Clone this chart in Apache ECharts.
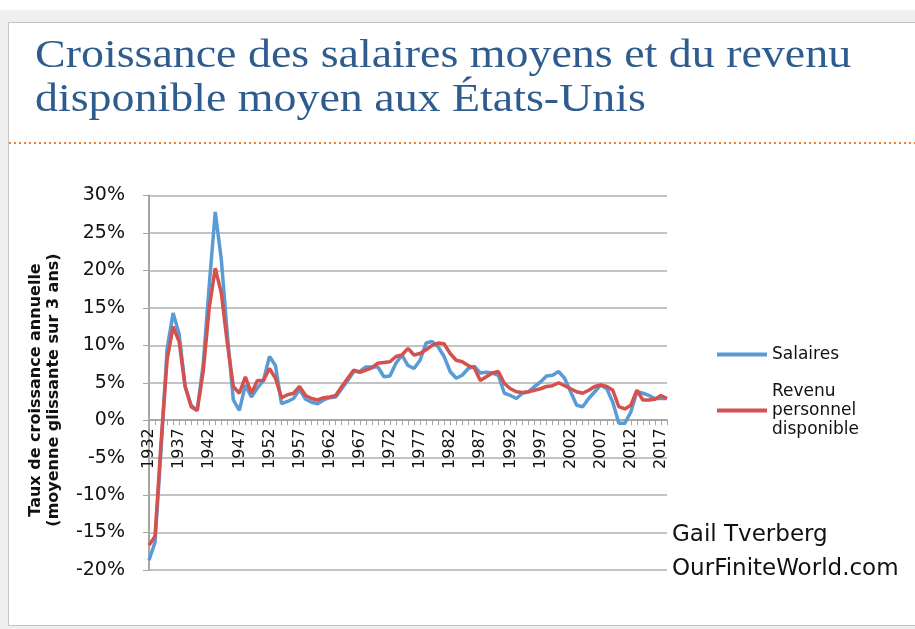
<!DOCTYPE html>
<html>
<head>
<meta charset="utf-8">
<script src="https://cdn.jsdelivr.net/npm/echarts@6/dist/echarts.min.js"></script>
<style>
  body { margin: 0; background: #fff; }
  #frame { position: absolute; left: 0; top: 10px; width: 915px; height: 619px; background: #efefef; }
  #panel { position: absolute; left: 8px; top: 22px; width: 910px; height: 602px; background: #fff; border: 1px solid #c4c4c4; }
  #chart { position: absolute; left: 0; top: 0; width: 915px; height: 629px; }
</style>
</head>
<body>
<div id="frame"></div>
<div id="panel"></div>
<div id="chart"></div>
<script>
var years = [];
for (var y = 1932; y <= 2018; y++) { years.push(String(y)); }

// Salaires, 1932-2018 (% moyenne glissante 3 ans)
var salaires = [
  -18.7, -16.3, -4, 9.5, 14.3, 11.5, 4.5, 2, 1.3, 7.5,
  18, 27.8, 21.5, 11.5, 2.7, 1.3, 4.7, 3.1, 4.3, 5.3,
  8.5, 7.3, 2.2, 2.5, 2.9, 4.1, 2.8, 2.4, 2.2, 2.7,
  3, 3.1, 4.2, 5.3, 6.5, 6.5, 7.1, 7.1, 7.1, 5.8,
  5.9, 7.6, 8.7, 7.3, 6.9, 8, 10.3, 10.5, 9.8, 8.5,
  6.5, 5.6, 6, 6.9, 7.2, 6.3, 6.4, 6.3, 6, 3.6,
  3.3, 2.9, 3.6, 3.8, 4.5, 5.1, 5.9, 6, 6.5, 5.6,
  3.8, 2, 1.8, 2.9, 3.8, 4.7, 4.2, 2.4, -0.4, -0.4,
  1.1, 3.8, 3.6, 3.3, 2.9, 2.9, 2.9
];

// Revenu personnel disponible, 1932-2018
var revenu = [
  -16.7, -15.5, -3, 8, 12.5, 10.5, 4.5, 1.8, 1.3, 6.5,
  15, 20.3, 17, 10.3, 4.5, 3.6, 5.8, 3.6, 5.3, 5.3,
  6.9, 5.6, 3, 3.4, 3.6, 4.5, 3.3, 2.9, 2.7, 3,
  3.1, 3.3, 4.5, 5.6, 6.7, 6.4, 6.7, 7, 7.6, 7.7,
  7.8, 8.5, 8.7, 9.6, 8.7, 8.9, 9.4, 10, 10.3, 10.2,
  8.9, 8, 7.8, 7.3, 7, 5.3, 5.8, 6.3, 6.5, 4.9,
  4.2, 3.8, 3.7, 3.8, 4, 4.2, 4.5, 4.6, 5, 4.6,
  4.2, 3.8, 3.6, 4, 4.5, 4.7, 4.5, 4, 1.8, 1.5,
  2, 4, 2.7, 2.7, 2.8, 3.3, 2.9
];

var chart = echarts.init(document.getElementById('chart'));
var option = {
  animation: false,
  textStyle: { fontFamily: 'DejaVu Sans' },
  grid: { left: 149, right: 248, top: 195.5, bottom: 59 },
  legend: {
    orient: 'vertical',
    left: 712,
    top: 340,
    itemWidth: 50,
    itemHeight: 4,
    itemGap: 18,
    icon: 'rect',
    textStyle: { fontSize: 17, color: '#111', lineHeight: 19, fontFamily: 'DejaVu Sans' },
    data: ['Salaires', 'Revenu\npersonnel\ndisponible']
  },
  xAxis: {
    type: 'category',
    boundaryGap: false,
    data: years,
    // the axis sits on the 0% line: 374.5px for 50 points -> 30 points down from top
    offset: -149.8,
    axisLine: { onZero: false, lineStyle: { color: '#a6a6a6', width: 2 } },
    axisTick: { show: true, interval: 0, length: 5, lineStyle: { color: '#a6a6a6' } },
    axisLabel: { interval: 4, rotate: 90, fontSize: 16, color: '#111', margin: 8 },
    splitLine: { show: false }
  },
  yAxis: {
    type: 'value',
    min: -20,
    max: 30,
    interval: 5,
    axisLine: { show: true, lineStyle: { color: '#a6a6a6', width: 2 } },
    axisTick: { show: true, length: 6, lineStyle: { color: '#a6a6a6' } },
    axisLabel: { formatter: '{value}%', fontSize: 19, color: '#111', margin: 24 },
    splitLine: { lineStyle: { color: '#c3c3c3', width: 2 } }
  },
  series: [
    {
      name: 'Salaires',
      type: 'line',
      data: salaires,
      symbol: 'none',
      color: '#5b9bd5',
      lineStyle: { width: 3.5, color: '#5b9bd5' },
      z: 2
    },
    {
      name: 'Revenu\npersonnel\ndisponible',
      type: 'line',
      data: revenu,
      symbol: 'none',
      color: '#d4514d',
      lineStyle: { width: 3.5, color: '#d4514d' },
      z: 3
    }
  ],
  graphic: [
    {
      type: 'text', x: 35, y: 34, scaleX: 1.12,
      style: {
        text: 'Croissance des salaires moyens et du revenu\ndisponible moyen aux États-Unis',
        font: '41px "Liberation Serif"', fill: '#2e5c8f', lineHeight: 44
      }
    },
    {
      type: 'line',
      shape: { x1: 9, y1: 143, x2: 915, y2: 143 },
      style: { stroke: '#ed7d31', lineWidth: 2, lineDash: [2, 3] }
    },
    {
      type: 'text', x: 45, y: 390, rotation: Math.PI / 2,
      style: {
        text: 'Taux de croissance annuelle\n(moyenne glissante sur 3 ans)',
        font: 'bold 16px "DejaVu Sans"', fill: '#111', align: 'center', verticalAlign: 'middle', lineHeight: 18
      }
    },
    {
      type: 'text', x: 672, y: 535,
      style: { text: 'Gail Tverberg', font: '23px "DejaVu Sans"', fill: '#111', verticalAlign: 'middle' }
    },
    {
      type: 'text', x: 672, y: 569,
      style: { text: 'OurFiniteWorld.com', font: '23px "DejaVu Sans"', fill: '#111', verticalAlign: 'middle' }
    }
  ]
};
chart.setOption(option);
window.onresize = chart.resize;
</script>
</body>
</html>
